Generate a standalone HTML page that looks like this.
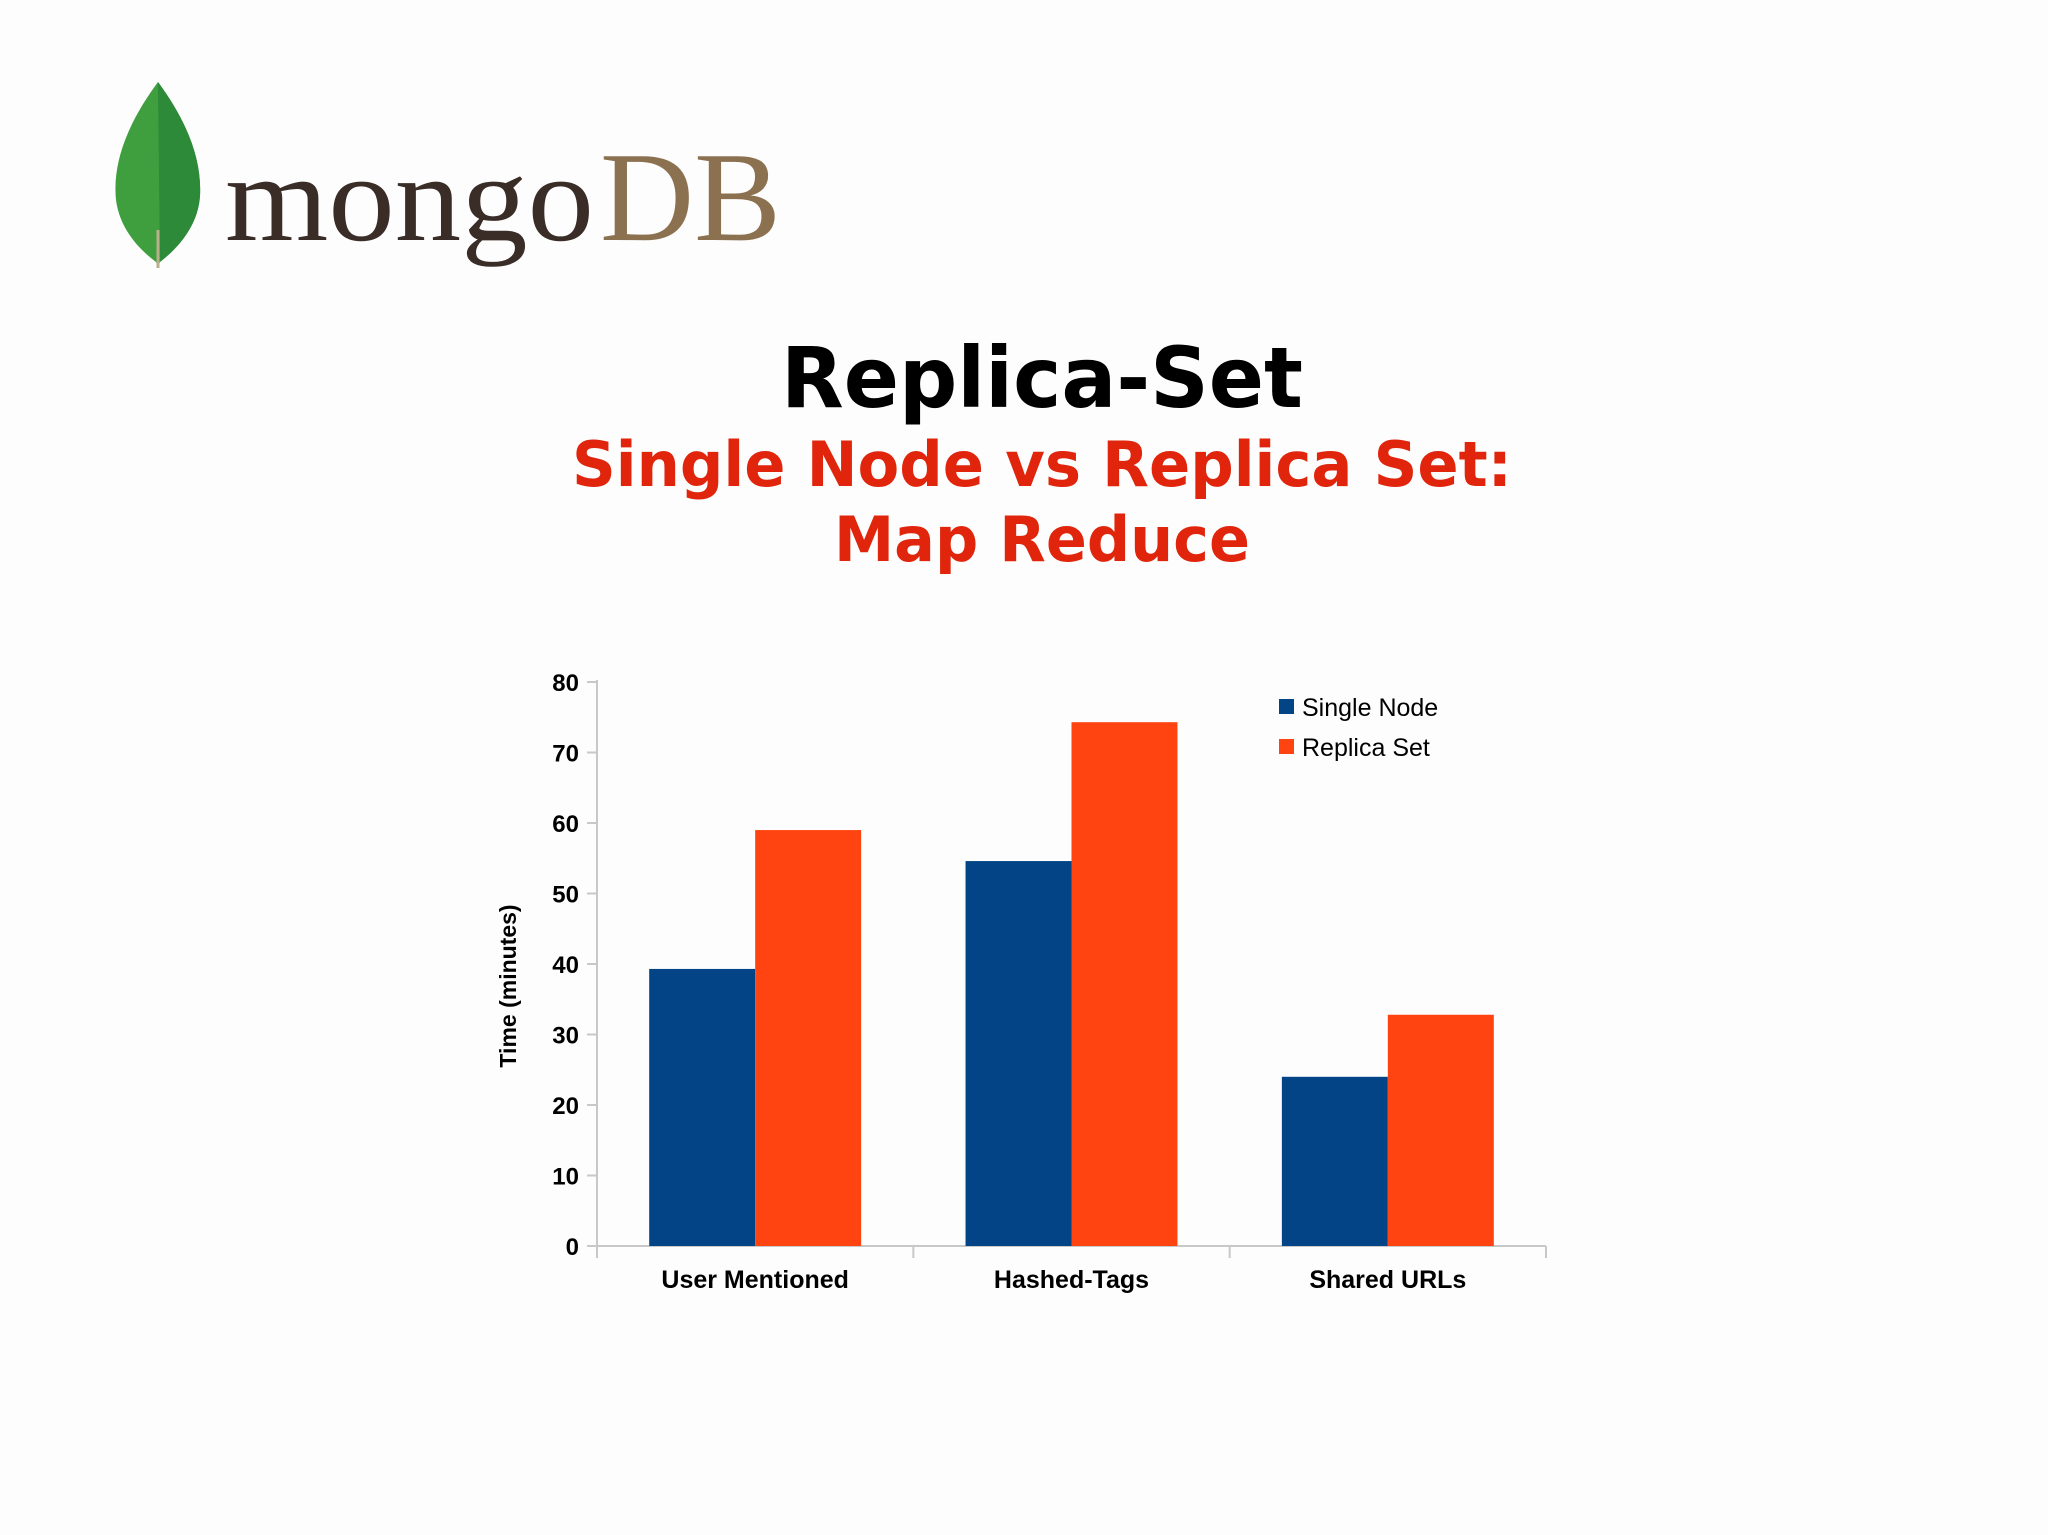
<!DOCTYPE html>
<html><head><meta charset="utf-8"><style>
html,body{margin:0;padding:0;background:#fff;}
svg{display:block;}
</style></head><body>
<svg id="root" width="2048" height="1535" viewBox="0 0 2048 1535">
<rect width="2048" height="1535" fill="#fdfdfd"/>
<g>
  <path d="M158 82 C 130 120, 112 160, 116 200 C 120 230, 140 250, 156 262 L 158 268 L 160 262 C 178 248, 198 226, 200 196 C 202 158, 186 120, 158 82 Z" fill="#3f9f3f"/>
  <path d="M158 82 C 186 120, 202 158, 200 196 C 198 226, 178 248, 160 262 L 158 90 Z" fill="#2d8a38"/>
  <line x1="158" y1="230" x2="158" y2="268" stroke="#b9b08a" stroke-width="3"/>
  <text x="225" y="240" font-family="Liberation Serif, serif" font-size="124" fill="#3a2d28" textLength="369" lengthAdjust="spacingAndGlyphs">mongo</text>
  <text x="600" y="240" font-family="Liberation Serif, serif" font-size="128" fill="#8c7150" textLength="181" lengthAdjust="spacingAndGlyphs">DB</text>
</g>
<text x="1042" y="407" text-anchor="middle" font-family="DejaVu Sans, sans-serif" font-weight="bold" font-size="84" fill="#000" textLength="522" lengthAdjust="spacingAndGlyphs">Replica-Set</text>
<text x="1042" y="486" text-anchor="middle" font-family="DejaVu Sans, sans-serif" font-weight="bold" font-size="62" fill="#e0250c" textLength="940" lengthAdjust="spacingAndGlyphs">Single Node vs Replica Set:</text>
<text x="1042" y="561" text-anchor="middle" font-family="DejaVu Sans, sans-serif" font-weight="bold" font-size="62" fill="#e0250c" textLength="416" lengthAdjust="spacingAndGlyphs">Map Reduce</text>
<g id="chart"></g>
</svg>
<script>
const categories = ["User Mentioned", "Hashed-Tags", "Shared URLs"];
const singleNode = [39.3, 54.6, 24.0];
const replicaSet = [59.0, 74.3, 32.8];
const yTicks = [0, 10, 20, 30, 40, 50, 60, 70, 80];
const seriesNames = ["Single Node", "Replica Set"];

const NS = "http://www.w3.org/2000/svg";
const g = document.getElementById("chart");
const X0 = 597, X1 = 1546, Y0 = 1246, Y1 = 682, YMAX = 80;
const y = v => Y0 - (v / YMAX) * (Y0 - Y1);
const groupW = (X1 - X0) / categories.length;
const barW = groupW * 0.335;
const xg = i => X0 + i * groupW;
function mk(tag, attrs, text) {
  const e = document.createElementNS(NS, tag);
  for (const k in attrs) e.setAttribute(k, attrs[k]);
  if (text !== undefined) e.textContent = text;
  g.appendChild(e);
  return e;
}
let e;
e = mk("line", {x1: X0, y1: Y1 - 2, x2: X0, y2: Y0 + 10, stroke: "#c8c8c8", "stroke-width": 2});


e = mk("line", {x1: X0, y1: Y0, x2: X1, y2: Y0, stroke: "#c8c8c8", "stroke-width": 2});


yTicks.forEach(t => {
  const tk = mk("line", {x1: X0 - 10, y1: y(t), x2: X0, y2: y(t), stroke: "#c8c8c8", "stroke-width": 2});
  
  
  const lb = mk("text", {x: 579, y: y(t) + 9, "text-anchor": "end", "font-family": "Liberation Sans, sans-serif", "font-weight": "bold", "font-size": 24, fill: "#000"}, String(t));
  
  
});
for (let i = 0; i <= categories.length; i++) {
  const tk = mk("line", {x1: xg(i), y1: Y0, x2: xg(i), y2: Y0 + 12, stroke: "#c8c8c8", "stroke-width": 2});
  
  
}
categories.forEach((c, i) => {
  const cx = xg(i) + groupW / 2;
  const b1 = mk("rect", {x: cx - barW, y: y(singleNode[i]), width: barW, height: Y0 - y(singleNode[i]), fill: "#024486"});
  
  
  const b2 = mk("rect", {x: cx, y: y(replicaSet[i]), width: barW, height: Y0 - y(replicaSet[i]), fill: "#ff4412"});
  
  
  const lb = mk("text", {x: cx, y: 1288, "text-anchor": "middle", "font-family": "Liberation Sans, sans-serif", "font-weight": "bold", "font-size": 25, fill: "#000"}, c);
  
  
});
e = mk("text", {x: 0, y: 0, transform: "translate(516,986) rotate(-90)", "text-anchor": "middle", "font-family": "Liberation Sans, sans-serif", "font-weight": "bold", "font-size": 23, fill: "#000"}, "Time (minutes)");


const legendColors = ["#024486", "#ff4412"];
seriesNames.forEach((n, i) => {
  const ly = 707 + i * 40;
  const sq = mk("rect", {x: 1279, y: ly - 8, width: 15, height: 15, fill: legendColors[i]});
  
  
  const t = mk("text", {x: 1302, y: ly + 9, "font-family": "Liberation Sans, sans-serif", "font-size": 25, fill: "#000"}, n);
  
  
});
</script>
</body></html>
